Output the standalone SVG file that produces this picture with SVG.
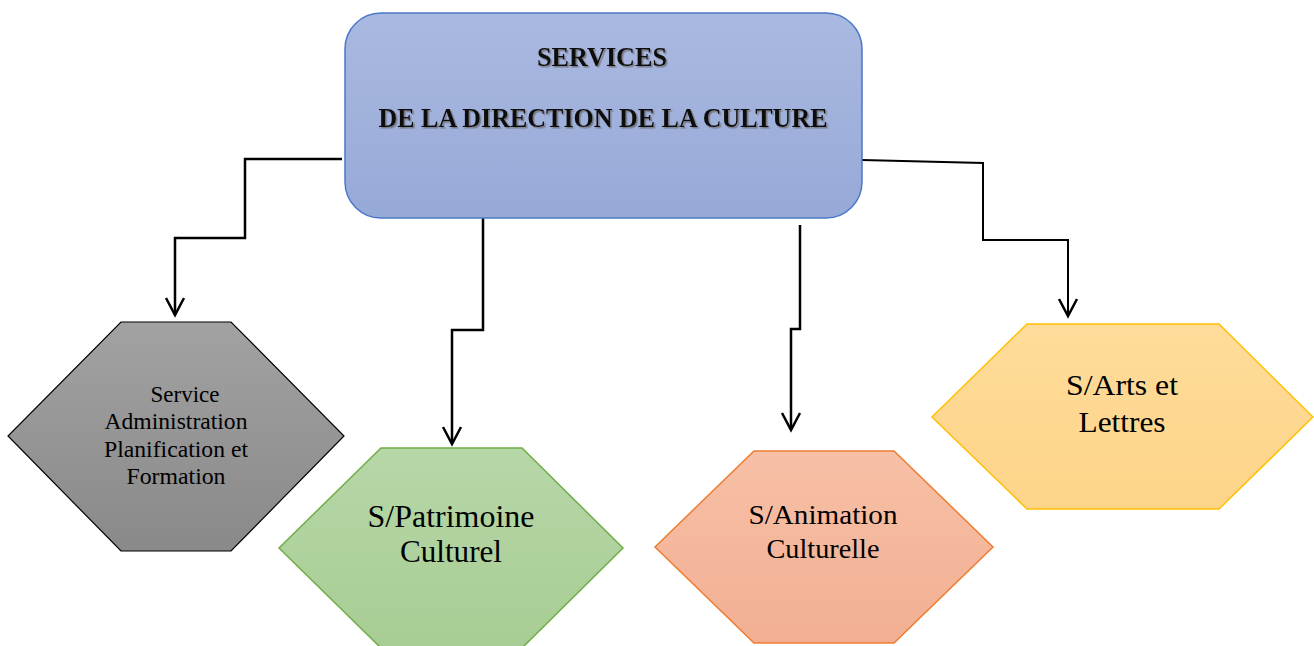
<svg xmlns="http://www.w3.org/2000/svg" width="1314" height="646" viewBox="0 0 1314 646">
  <defs>
    <linearGradient id="gBlue" x1="0" y1="0" x2="0" y2="1">
      <stop offset="0" stop-color="#aab9e1"/>
      <stop offset="1" stop-color="#96a9d7"/>
    </linearGradient>
    <linearGradient id="gGray" x1="0" y1="0" x2="0" y2="1">
      <stop offset="0" stop-color="#a2a2a2"/>
      <stop offset="1" stop-color="#898989"/>
    </linearGradient>
    <linearGradient id="gGreen" x1="0" y1="0" x2="0" y2="1">
      <stop offset="0" stop-color="#b6d7a8"/>
      <stop offset="1" stop-color="#a8cd94"/>
    </linearGradient>
    <linearGradient id="gOrange" x1="0" y1="0" x2="0" y2="1">
      <stop offset="0" stop-color="#f7c0a6"/>
      <stop offset="1" stop-color="#f2af93"/>
    </linearGradient>
    <linearGradient id="gYellow" x1="0" y1="0" x2="0" y2="1">
      <stop offset="0" stop-color="#ffdc9a"/>
      <stop offset="1" stop-color="#fdd489"/>
    </linearGradient>
    <filter id="shadow" x="-10%" y="-30%" width="120%" height="160%">
      <feDropShadow dx="1.5" dy="1.5" stdDeviation="0.6" flood-color="#6b6b6b" flood-opacity="0.8"/>
    </filter>
    <marker id="arrow" markerWidth="24" markerHeight="24" viewBox="-12 -20 24 24" refX="0" refY="0" orient="auto-start-reverse" markerUnits="userSpaceOnUse">
      <path d="M -9 -17 L 0 0 L 9 -17" fill="none" stroke="#000" stroke-width="2.5"/>
    </marker>
  </defs>
  <style>
    .conn { fill: none; stroke: #000; stroke-width: 2.5; }
    .title { font-family: "Liberation Serif", "Times New Roman", serif; font-weight: bold; font-size: 27px; fill: #111; text-anchor: middle; }
    .lbl { font-family: "Liberation Serif", "Times New Roman", serif; fill: #000; text-anchor: middle; }
  </style>

  <rect width="1314" height="646" fill="#ffffff"/>

  <g id="connectors">
    <path class="conn" d="M 342 159 H 245 V 238 H 175 V 315"/>
    <path d="M 166 298 L 175 315 L 184 298" fill="none" stroke="#000" stroke-width="2.5"/>
    <path class="conn" d="M 483 218 V 330 H 452 V 444"/>
    <path d="M 443 427 L 452 444 L 461 427" fill="none" stroke="#000" stroke-width="2.5"/>
    <path class="conn" d="M 800 225 V 329 H 791 V 430"/>
    <path d="M 782 413 L 791 430 L 800 413" fill="none" stroke="#000" stroke-width="2.5"/>
    <path class="conn" d="M 862 160 L 983 163 V 240 H 1068 V 316" style="stroke-width:2"/>
    <path d="M 1059 299 L 1068 316 L 1077 299" fill="none" stroke="#000" stroke-width="2.5"/>
  </g>

  <g id="direction">
    <rect x="345" y="13" width="517" height="205" rx="36" ry="36" fill="url(#gBlue)" stroke="#4a78c8" stroke-width="1.5"/>
    <g filter="url(#shadow)">
      <text class="title" x="602" y="66" textLength="130" lengthAdjust="spacingAndGlyphs">SERVICES</text>
      <text class="title" x="603" y="127" textLength="449" lengthAdjust="spacingAndGlyphs">DE LA DIRECTION DE LA CULTURE</text>
    </g>
  </g>

  <g id="admin">
    <polygon points="121,322 231,322 344,436 231,551 121,551 8,436" fill="url(#gGray)" stroke="#000" stroke-width="1.2"/>
    <text class="lbl" font-size="23" x="185" y="402">Service</text>
    <text class="lbl" font-size="23" x="176" y="429" textLength="143" lengthAdjust="spacingAndGlyphs">Administration</text>
    <text class="lbl" font-size="23" x="176" y="457" textLength="144" lengthAdjust="spacingAndGlyphs">Planification et</text>
    <text class="lbl" font-size="23" x="176" y="484" textLength="99" lengthAdjust="spacingAndGlyphs">Formation</text>
  </g>

  <g id="patrimoine">
    <polygon points="381,448 522,448 623,548 522,648 381,648 279,548" fill="url(#gGreen)" stroke="#70ad47" stroke-width="1.5"/>
    <text class="lbl" font-size="31" x="451" y="527" textLength="167" lengthAdjust="spacingAndGlyphs">S/Patrimoine</text>
    <text class="lbl" font-size="31" x="451" y="562" textLength="102" lengthAdjust="spacingAndGlyphs">Culturel</text>
  </g>

  <g id="animation">
    <polygon points="754,451 894,451 993,547 894,643 754,643 655,547" fill="url(#gOrange)" stroke="#ed7d31" stroke-width="1.5"/>
    <text class="lbl" font-size="28" x="823" y="524" textLength="149" lengthAdjust="spacingAndGlyphs">S/Animation</text>
    <text class="lbl" font-size="28" x="823" y="558" textLength="113" lengthAdjust="spacingAndGlyphs">Culturelle</text>
  </g>

  <g id="arts">
    <polygon points="1027,324 1219,324 1313,417 1219,509 1027,509 932,417" fill="url(#gYellow)" stroke="#ffc000" stroke-width="1.5"/>
    <text class="lbl" font-size="30" x="1122" y="395" textLength="112" lengthAdjust="spacingAndGlyphs">S/Arts et</text>
    <text class="lbl" font-size="30" x="1122" y="432" textLength="87" lengthAdjust="spacingAndGlyphs">Lettres</text>
  </g>
</svg>
